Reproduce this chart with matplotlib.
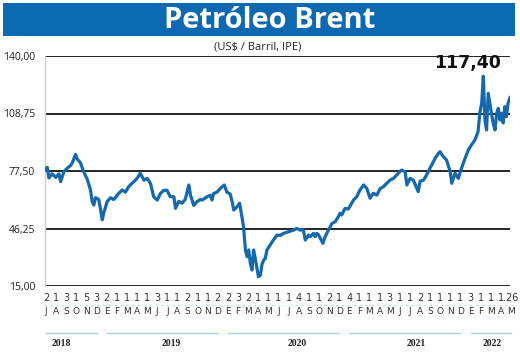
import numpy as np
import pandas as pd
import matplotlib
matplotlib.use('Agg')
import matplotlib.pyplot as plt
from matplotlib.patches import Rectangle
from matplotlib.lines import Line2D

# --- dados ---
datas = [
    '2018-07-03', '2018-07-08', '2018-07-13', '2018-07-23', '2018-08-03', '2018-08-13',
    '2018-08-18', '2018-08-28', '2018-09-07', '2018-09-18', '2018-09-23', '2018-10-03',
    '2018-10-08', '2018-10-18', '2018-10-28', '2018-11-08', '2018-11-18', '2018-11-23',
    '2018-11-28', '2018-12-03', '2018-12-13', '2018-12-19', '2018-12-24', '2018-12-29',
    '2019-01-08', '2019-01-18', '2019-01-28', '2019-02-13', '2019-02-23', '2019-03-05',
    '2019-03-15', '2019-03-31', '2019-04-10', '2019-04-20', '2019-05-01', '2019-05-11',
    '2019-05-21', '2019-05-31', '2019-06-11', '2019-06-21', '2019-07-01', '2019-07-11',
    '2019-07-21', '2019-08-01', '2019-08-06', '2019-08-16', '2019-08-26', '2019-09-05',
    '2019-09-16', '2019-09-21', '2019-10-01', '2019-10-11', '2019-10-21', '2019-10-27',
    '2019-11-11', '2019-11-21', '2019-11-26', '2019-12-01', '2019-12-12', '2019-12-22',
    '2020-01-03', '2020-01-11', '2020-01-21', '2020-01-27', '2020-02-01', '2020-02-11',
    '2020-02-19', '2020-02-26', '2020-03-02', '2020-03-08', '2020-03-13', '2020-03-18',
    '2020-03-23', '2020-03-28', '2020-04-02', '2020-04-07', '2020-04-12', '2020-04-17',
    '2020-04-23', '2020-04-28', '2020-05-03', '2020-05-08', '2020-05-13', '2020-05-23',
    '2020-06-02', '2020-06-13', '2020-06-23', '2020-07-03', '2020-07-18', '2020-08-03',
    '2020-08-13', '2020-08-23', '2020-09-02', '2020-09-08', '2020-09-18', '2020-09-23',
    '2020-10-03', '2020-10-08', '2020-10-13', '2020-10-18', '2020-10-24', '2020-11-01',
    '2020-11-08', '2020-11-18', '2020-11-29', '2020-12-09', '2020-12-19', '2020-12-24',
    '2020-12-29', '2021-01-08', '2021-01-18', '2021-02-03', '2021-02-13', '2021-02-23',
    '2021-03-06', '2021-03-16', '2021-03-26', '2021-04-05', '2021-04-16', '2021-04-26',
    '2021-05-06', '2021-05-16', '2021-05-26', '2021-06-06', '2021-06-21', '2021-07-01',
    '2021-07-12', '2021-07-17', '2021-07-27', '2021-08-06', '2021-08-21', '2021-08-27',
    '2021-09-06', '2021-09-16', '2021-09-26', '2021-10-12', '2021-10-22', '2021-10-27',
    '2021-11-06', '2021-11-16', '2021-11-27', '2021-12-02', '2021-12-12', '2021-12-22',
    '2022-01-01', '2022-01-12', '2022-01-22', '2022-02-01', '2022-02-11', '2022-02-21',
    '2022-02-26', '2022-03-04', '2022-03-09', '2022-03-14', '2022-03-19', '2022-03-24',
    '2022-03-29', '2022-04-03', '2022-04-08', '2022-04-14', '2022-04-19', '2022-04-24',
    '2022-04-29', '2022-05-04', '2022-05-09', '2022-05-14', '2022-05-19', '2022-05-24',
    '2022-05-30',
]
precos = [
    78.0, 79.5, 73.7, 76.0, 74.0, 76.0,
    71.7, 77.0, 79.0, 80.5, 82.0, 86.5,
    84.0, 82.0, 77.0, 73.0, 67.0, 60.8,
    59.0, 63.0, 62.0, 56.3, 51.0, 55.0,
    60.8, 63.0, 62.0, 65.4, 67.2, 66.0,
    69.0, 71.7, 73.5, 76.3, 72.5, 73.5,
    70.8, 63.5, 61.7, 65.4, 67.0, 67.0,
    63.5, 63.5, 57.2, 61.0, 60.0, 62.0,
    69.9, 64.5, 58.8, 60.8, 62.0, 61.7,
    63.5, 64.3, 61.7, 65.2, 66.1, 68.1,
    69.9, 66.0, 65.0, 60.9, 56.3, 58.0,
    60.0, 52.8, 47.3, 34.6, 30.9, 34.6,
    27.3, 23.7, 34.6, 30.0, 25.0, 20.0,
    21.0, 27.0, 29.0, 30.0, 34.6, 37.3,
    40.0, 42.7, 42.5, 43.6, 44.5, 45.4,
    46.3, 45.4, 45.4, 40.0, 42.7, 41.8,
    43.6, 41.8, 43.6, 43.0, 41.0, 38.2,
    41.8, 45.4, 49.0, 50.0, 52.8, 54.5,
    53.6, 57.2, 56.8, 61.7, 63.5, 67.2,
    69.9, 68.0, 62.7, 65.4, 64.4, 68.0,
    68.9, 70.8, 72.5, 73.5, 76.3, 78.0,
    77.0, 69.9, 73.5, 72.5, 66.3, 72.0,
    72.5, 75.4, 79.0, 84.4, 87.1, 88.0,
    85.3, 83.5, 77.3, 70.8, 76.3, 73.5,
    79.0, 84.4, 89.0, 91.8, 94.3, 98.9,
    108.9, 114.3, 129.0, 105.2, 99.8, 119.7,
    114.3, 108.9, 103.6, 99.8, 108.9, 111.5,
    105.2, 108.9, 103.6, 112.5, 107.0, 114.3,
    117.4,
]
ultimo_valor = '117,40'

meses = ['J', 'A', 'S', 'O', 'N', 'D'] + ['E', 'F', 'M', 'A', 'M', 'J', 'J', 'A', 'S', 'O', 'N', 'D'] * 3 + ['E', 'F', 'M', 'A', 'M']
dias = ['2', '1', '3', '1', '5', '3',
        '2', '1', '1', '1', '1', '3', '1', '1', '2', '1', '1', '2',
        '2', '3', '2', '1', '1', '1', '1', '4', '1', '1', '2', '1',
        '4', '1', '1', '1', '3', '1', '1', '2', '1', '1', '1', '1',
        '3', '1', '1', '1', '.26']
anos = ['2018', '2019', '2020', '2021', '2022']
meses_por_ano = [6, 12, 12, 12, 5]
pos_ano = [1.5, 12.4, 24.9, 36.6, 44.1]   # posicao do rotulo do ano (indice do mes)

y_ticks = [15.0, 46.25, 77.5, 108.75, 140.0]
y_labels = ['15,00', '46,25', '77,50', '108,75', '140,00']

# --- figura ---
W, H = 520, 353
fig = plt.figure(figsize=(W / 100, H / 100), dpi=100)
fig.patch.set_facecolor('white')

def fx(px):
    return px / W

def fy(py):
    return 1 - py / H

ax = fig.add_axes([fx(45), fy(286), fx(510) - fx(45), fy(56) - fy(286)])

x = pd.to_datetime(datas)
ax.plot(x, precos, color='#1668ad', lw=2.3, solid_joinstyle='round', zorder=3)
ax.set_xlim(pd.Timestamp('2018-07-01'), pd.Timestamp('2022-05-30'))
ax.set_ylim(15, 140)

for v in y_ticks:
    ax.axhline(v, color='black', lw=1.2, zorder=2)
ax.set_yticks(y_ticks)
ax.set_yticklabels(y_labels, fontsize=7.5, family='Open Sans', color='#222222')
ax.tick_params(axis='y', length=0, pad=7)
ax.set_xticks([])
for s in ['top', 'right', 'bottom']:
    ax.spines[s].set_visible(False)
ax.spines['left'].set_color('#cfcfcf')
ax.spines['left'].set_linewidth(1.0)

# --- cabeçalho ---
fig.patches.append(Rectangle((fx(3), fy(36)), fx(512), 33 / H, transform=fig.transFigure,
                             facecolor='#0b69b1', edgecolor='none'))
fig.text(fx(270), fy(20), 'Petróleo Brent', ha='center', va='center', color='white',
         fontsize=21, fontweight='bold', family='Open Sans')
fig.text(fx(258), fy(47), '(US$ / Barril, IPE)', ha='center', va='center',
         fontsize=8, family='Open Sans', color='#222222')
fig.text(fx(467), fy(63), ultimo_valor, ha='center', va='center',
         fontsize=12.5, fontweight='bold', family='DejaVu Sans', color='#111111')

# --- eixo x: meses, dias e anos ---
px_mes = np.linspace(46, 511, len(meses))
for p, m, d in zip(px_mes, meses, dias):
    fig.text(fx(p), fy(298), d, ha='center', va='center', fontsize=7,
             family='Liberation Sans Narrow', color='#333333')
    fig.text(fx(p), fy(312), m, ha='center', va='center', fontsize=6.5,
             family='Liberation Sans Narrow', color='#333333')
fig.lines.append(Line2D([fx(44), fx(514)], [fy(305), fy(305)], transform=fig.transFigure,
                        color='#b5dbe8', lw=0.6, ls=(0, (3, 4))))

inicio = 0
for ano, n, pa in zip(anos, meses_por_ano, pos_ano):
    a, b = px_mes[inicio], px_mes[inicio + n - 1]
    fig.lines.append(Line2D([fx(a), fx(b)], [fy(333), fy(333)], transform=fig.transFigure,
                            color='#a7d2e2', lw=1.0))
    fig.text(fx(46 + pa * (465 / 46)), fy(343), ano, ha='center', va='center',
             fontsize=7, fontweight='bold', family='Liberation Serif', color='#222222')
    inicio += n

fig.savefig('out.png', dpi=100)
